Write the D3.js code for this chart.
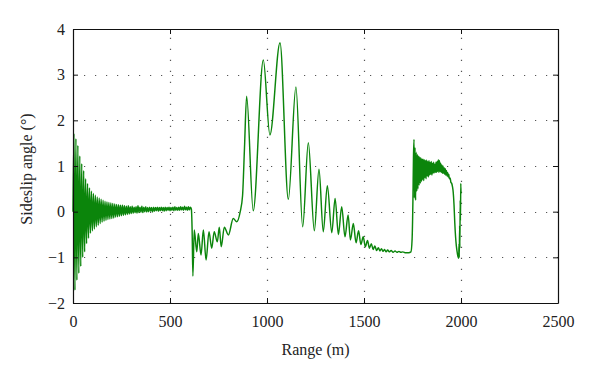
<!DOCTYPE html>
<html>
<head>
<meta charset="utf-8">
<script src="https://cdn.jsdelivr.net/npm/d3@7"></script>
<style>
  html, body { margin: 0; padding: 0; background: #ffffff; }
  svg { display: block; }
  text { font-family: "Liberation Serif", "DejaVu Serif", serif; fill: #222; }
</style>
</head>
<body>
<svg id="chart" width="600" height="380"></svg>
<script>
// ---------- data ----------
const xTicks = [0, 500, 1000, 1500, 2000, 2500];
const yTicks = [-2, -1, 0, 1, 2, 3, 4];
const xLabel = "Range (m)";
const yLabel = "Sideslip angle (°)";

// early oscillation, sampled every 5 m from 0 m
const earlyStep = 5;
const earlyAngle = [
  0, 1.71, -1.72, 1.60, -1.50, 1.45, -1.35, 1.22, -1.20, 1.05,
  -1.00, 0.90, -0.88, 0.72, -0.70, 0.62, -0.58, 0.52, -0.47, 0.45,
  -0.42, 0.40, -0.38, 0.36, -0.33, 0.32, -0.30, 0.30, -0.26, 0.27,
  -0.23, 0.25, -0.21, 0.23, -0.19, 0.21, -0.17, 0.20, -0.16, 0.19,
  -0.15, 0.18, -0.14, 0.17, -0.12, 0.16, -0.11, 0.15, -0.10, 0.14,
  -0.09, 0.14, -0.08, 0.13, -0.07, 0.12, -0.06, 0.13, -0.05, 0.11,
  -0.04, 0.12, -0.03, 0.10, -0.02, 0.11, -0.03, 0.13, -0.02, 0.10,
  -0.01, 0.12, -0.02, 0.10, 0.00, 0.11, -0.01, 0.09, 0.00, 0.10,
  0.01, 0.09, -0.01, 0.10, 0.01, 0.09, 0.02, 0.10, 0.01, 0.09,
  0.02, 0.10, 0.02, 0.09, 0.01, 0.10, 0.02, 0.09, 0.03, 0.10,
  0.02, 0.09, 0.03, 0.10, 0.02, 0.11, 0.03, 0.09, 0.03, 0.10,
  0.03, 0.11, 0.04, 0.10, 0.03, 0.12, 0.04, 0.10, 0.03, 0.11,
  0.04, 0.10
];

// middle section: [range m, angle deg]
const midRange = [
  610, 614, 618, 625, 638, 646, 660, 672, 686, 701, 715, 728, 744, 754, 764,
  780, 801, 826, 844, 862, 874, 884, 895, 929, 981, 1015, 1067, 1110, 1149,
  1184, 1213, 1244, 1268, 1290, 1311, 1334, 1351, 1368, 1385, 1402, 1418,
  1430, 1445, 1459, 1472, 1484, 1496, 1507, 1518, 1528, 1538, 1547, 1556,
  1565, 1574, 1582, 1590, 1598, 1606, 1614, 1622, 1630, 1640, 1650, 1660,
  1670, 1680, 1690, 1700, 1715, 1730, 1742, 1748, 1752, 1755
];
const midAngle = [
  0.06, -0.40, -1.41, -0.40, -0.88, -0.48, -0.95, -0.40, -1.06, -0.44, -0.80, -0.44, -0.66, -0.34, -0.77,
  -0.34, -0.51, -0.15, -0.22, 0.00, 0.35, 1.40, 2.53, 0.02, 3.32, 1.68, 3.70, 0.27, 2.73,
  -0.33, 1.51, -0.42, 0.93, -0.44, 0.57, -0.46, 0.29, -0.50, 0.11, -0.55, -0.07,
  -0.62, -0.26, -0.68, -0.42, -0.72, -0.55, -0.77, -0.63, -0.80, -0.70, -0.83, -0.75,
  -0.85, -0.79, -0.86, -0.81, -0.87, -0.83, -0.88, -0.84, -0.88, -0.85, -0.89, -0.86,
  -0.89, -0.87, -0.89, -0.88, -0.90, -0.90, -0.88, -0.60, 0.20, 1.20
];

// final section: [range m, angle deg]
const endRange = [
  1758, 1760, 1763, 1766, 1769, 1772, 1775, 1778, 1781, 1784, 1787, 1790, 1793, 1796, 1799,
  1802, 1805, 1808, 1811, 1814, 1817, 1820, 1823, 1826, 1829, 1832, 1835, 1838, 1841, 1844,
  1847, 1850, 1853, 1856, 1859, 1862, 1865, 1868, 1871, 1874, 1877, 1880, 1883, 1886, 1889,
  1892, 1895, 1898, 1901, 1904, 1907, 1910, 1913, 1916, 1919, 1922, 1925, 1928, 1931, 1934,
  1937, 1940, 1944, 1948, 1952, 1956, 1960, 1964, 1968, 1972, 1976, 1980, 1984, 1988, 1990,
  1991, 1993, 1994, 1996, 1997, 1999, 2000
];
const endAngle = [
  1.58, 0.30, 1.40, 0.25, 1.30, 0.45, 1.25, 0.50, 1.22, 0.58, 1.20, 0.62, 1.18, 0.66, 1.16,
  0.70, 1.15, 0.68, 1.14, 0.74, 1.12, 0.72, 1.13, 0.78, 1.10, 0.76, 1.12, 0.80, 1.08, 0.82,
  1.10, 0.80, 1.06, 0.84, 1.08, 0.85, 1.04, 0.86, 1.08, 0.86, 1.10, 0.88, 1.14, 0.86, 1.12,
  0.88, 1.06, 0.86, 1.02, 0.84, 1.00, 0.84, 0.96, 0.82, 0.94, 0.80, 0.90, 0.78, 0.86, 0.76,
  0.82, 0.72, 0.74, 0.64, 0.62, 0.55, 0.42, 0.15, -0.25, -0.55, -0.75, -0.88, -0.98, -1.02, -0.70,
  -1.00, -0.30, -0.80, 0.25, -0.20, 0.62, 0.40
];

// ---------- build series ----------
const series = [];
earlyAngle.forEach((a, i) => series.push({ r: i * earlyStep, a }));
midRange.forEach((r, i) => series.push({ r, a: midAngle[i] }));
endRange.forEach((r, i) => series.push({ r, a: endAngle[i] }));

// ---------- layout ----------
const L = 73, R = 558, T = 29, B = 303;
const svg = d3.select("#chart");
const x = d3.scaleLinear().domain([0, 2500]).range([L, R]);
const y = d3.scaleLinear().domain([-2, 4]).range([B, T]);

// grid
const grid = svg.append("g").attr("stroke", "#555").attr("stroke-width", 1.2)
  .attr("stroke-dasharray", "1.2,9.8").attr("fill", "none");
grid.selectAll("line.gx").data(xTicks.slice(1, -1)).join("line")
  .attr("x1", d => Math.round(x(d)) + 0.5).attr("x2", d => Math.round(x(d)) + 0.5)
  .attr("y1", B).attr("y2", T);
grid.selectAll("line.gy").data(yTicks.slice(1, -1)).join("line")
  .attr("y1", d => Math.round(y(d)) + 0.5).attr("y2", d => Math.round(y(d)) + 0.5)
  .attr("x1", L).attr("x2", R);

// line
const line = d3.line().x(d => x(d.r)).y(d => y(d.a)).curve(d3.curveMonotoneX);
svg.append("path").datum(series)
  .attr("fill", "none").attr("stroke", "#0b850b").attr("stroke-width", 1.45)
  .attr("stroke-linejoin", "round").attr("d", line);

// axes
const fmt = d3.format("");
const axB = svg.append("g").attr("transform", `translate(0,${B})`)
  .call(d3.axisBottom(x).tickValues(xTicks).tickSize(-5).tickSizeOuter(0).tickPadding(10).tickFormat(fmt));
const axT = svg.append("g").attr("transform", `translate(0,${T})`)
  .call(d3.axisTop(x).tickValues(xTicks).tickSize(-5).tickSizeOuter(0).tickFormat(""));
const axL = svg.append("g").attr("transform", `translate(${L},0)`)
  .call(d3.axisLeft(y).tickValues(yTicks).tickSize(-5).tickSizeOuter(0).tickPadding(8).tickFormat(fmt));
const axR = svg.append("g").attr("transform", `translate(${R},0)`)
  .call(d3.axisRight(y).tickValues(yTicks).tickSize(-5).tickSizeOuter(0).tickFormat(""));

[axB, axT, axL, axR].forEach(g => {
  g.select(".domain").attr("stroke", "#111").attr("stroke-width", 1.2);
  g.selectAll(".tick line").attr("stroke", "#111").attr("stroke-width", 1);
  g.selectAll(".tick text").attr("font-family", "Liberation Serif, serif")
    .attr("font-size", 16).attr("fill", "#222");
});
axB.selectAll(".tick text").attr("dy", "0.9em");

// labels
svg.append("text").attr("x", (L + R) / 2).attr("y", 355)
  .attr("text-anchor", "middle").attr("font-size", 16).text(xLabel);
svg.append("text").attr("transform", `translate(32,${(T + B) / 2 + 3}) rotate(-90)`)
  .attr("text-anchor", "middle").attr("font-size", 16).text(yLabel);
</script>
</body>
</html>
